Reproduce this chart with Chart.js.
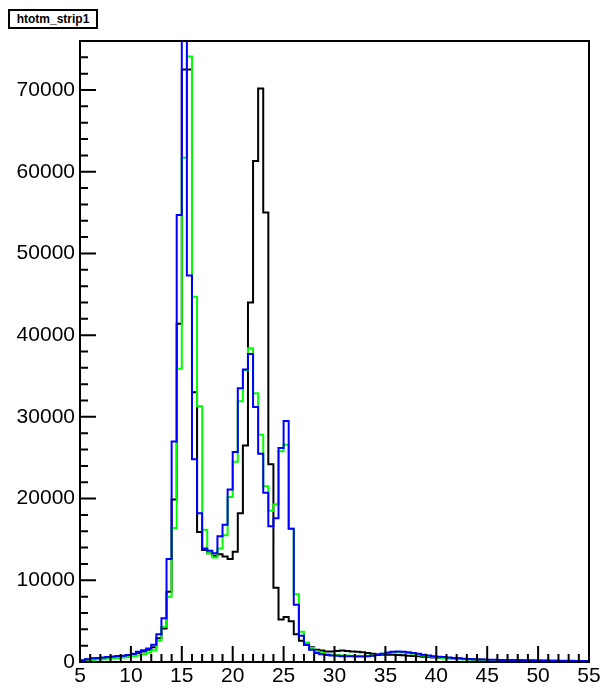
<!DOCTYPE html>
<html>
<head>
<meta charset="utf-8">
<script src="https://cdn.jsdelivr.net/npm/chart.js@4.4.1/dist/chart.umd.min.js"></script>
<style>
  body { margin: 0; background: #fff; }
  #wrap { position: relative; width: 605px; height: 688px; }
  #title {
    position: absolute; left: 8px; top: 9px; width: 86px; height: 16px;
    border: 2px solid #000; font: bold 12px "Liberation Sans", Arial, sans-serif;
    line-height: 16px; text-align: center; color: #000; background: #fff;
  }
</style>
</head>
<body>
<div id="wrap">
  <canvas id="c" width="605" height="688"></canvas>
  <div id="title">htotm_strip1</div>
</div>
<script>
// histogram bins: 0.5 wide, from 5 to 55
const histName = 'htotm_strip1';
const xMin = 5, xMax = 55, binWidth = 0.5;
const yMax = 76000;
const xTickValues = [5, 10, 15, 20, 25, 30, 35, 40, 45, 50, 55];
const yTickValues = [0, 10000, 20000, 30000, 40000, 50000, 60000, 70000];

const blackCounts = [
  150, 300, 400, 450, 500, 550, 600, 650, 700, 800,
  950, 1100, 1300, 1500, 1800, 2900, 4100, 8600, 19900, 41400,
  72500, 72500, 33000, 15900, 13700, 13300, 13000, 13200, 12900, 12600,
  13500, 18200, 26500, 44000, 61300, 70200, 55000, 24200, 9100, 5200,
  5500, 5000, 3400, 2600, 2100, 1800, 1500, 1400, 1300, 1300,
  1350, 1400, 1350, 1300, 1250, 1200, 1100, 1000, 950, 900,
  900, 880, 850, 820, 780, 740, 700, 650, 600, 560,
  520, 480, 450, 420, 390, 360, 340, 320, 300, 280,
  260, 250, 240, 230, 220, 210, 200, 190, 180, 170,
  160, 150, 150, 140, 130, 130, 120, 110, 110, 100
];
const greenCounts = [
  50, 150, 250, 300, 350, 400, 450, 500, 550, 600,
  700, 800, 950, 1150, 1450, 2600, 4300, 8000, 16400, 35900,
  61700, 74100, 44700, 31300, 16200, 13300, 12800, 13900, 15500, 20200,
  24500, 31900, 35700, 38400, 32900, 27800, 21500, 18500, 19300, 25800,
  26600, 16300, 8300, 3700, 2400, 1700, 1300, 1100, 950, 900,
  850, 800, 800, 750, 750, 730, 750, 800, 900, 1000,
  1100, 1150, 1200, 1150, 1100, 1000, 900, 800, 700, 650,
  550, 500, 450, 400, 350, 320, 300, 270, 250, 230,
  210, 200, 190, 180, 170, 160, 150, 140, 130, 130,
  120, 120, 110, 110, 100, 100, 90, 90, 80, 80
];
const blueCounts = [
  200, 350, 450, 500, 560, 620, 680, 740, 780, 850,
  1000, 1250, 1450, 1650, 2100, 3400, 5350, 12600, 27000, 54700,
  90000, 47300, 24800, 18200, 13900, 13600, 13300, 15400, 16800, 21100,
  25700, 33500, 35800, 37700, 31200, 25500, 20700, 16600, 17600, 26200,
  29500, 16300, 7000, 3200, 2100, 1500, 1100, 950, 850, 800,
  750, 700, 700, 700, 680, 680, 700, 750, 850, 1000,
  1150, 1250, 1300, 1250, 1200, 1100, 1000, 900, 800, 700,
  650, 600, 550, 500, 450, 400, 380, 350, 320, 300,
  280, 270, 260, 250, 240, 230, 220, 210, 200, 190,
  180, 170, 160, 160, 150, 150, 140, 130, 130, 120
];

// bin low edges (categories)
const binEdges = blackCounts.map((_, i) => xMin + i * binWidth);

// turn counts into a closed step outline like ROOT's HIST draw
function histPoints(counts) {
  const pts = [{ x: xMin, y: 0 }];
  counts.forEach((c, i) => pts.push({ x: binEdges[i], y: c }));
  pts.push({ x: xMax, y: counts[counts.length - 1] });
  pts.push({ x: xMax, y: 0 });
  return pts;
}

const font = { family: '"Liberation Sans", Arial, sans-serif', size: 21 };

// ROOT-like frame with inward ticks
const frameTicks = {
  id: 'frameTicks',
  afterDatasetsDraw(chart) {
    const { ctx, chartArea: a, scales: { x, y } } = chart;
    ctx.save();
    ctx.strokeStyle = '#000';
    ctx.lineWidth = 2;
    ctx.beginPath();
    for (let v = 0; v <= yMax; v += 2000) {
      const py = y.getPixelForValue(v);
      const len = v % 10000 === 0 ? 16 : 8;
      ctx.moveTo(a.left, py);
      ctx.lineTo(a.left + len, py);
    }
    for (let v = xMin; v <= xMax; v += 1) {
      const px = x.getPixelForValue(v);
      const len = v % 5 === 0 ? 16 : 8;
      ctx.moveTo(px, a.bottom);
      ctx.lineTo(px, a.bottom - len);
    }
    ctx.stroke();
    ctx.strokeRect(a.left, a.top, a.right - a.left, a.bottom - a.top);
    ctx.restore();
  }
};

new Chart(document.getElementById('c'), {
  type: 'line',
  data: {
    datasets: [
      { label: 'blue', data: histPoints(blueCounts), borderColor: '#0000ff' },
      { label: 'green', data: histPoints(greenCounts), borderColor: '#00ff00' },
      { label: 'black', data: histPoints(blackCounts), borderColor: '#000000' }
    ].map(d => Object.assign(d, { stepped: true, borderWidth: 2, pointRadius: 0, fill: false }))
  },
  options: {
    responsive: false,
    animation: false,
    devicePixelRatio: 1,
    layout: { padding: { top: 41, right: 16, left: 0, bottom: 0 } },
    plugins: { legend: { display: false }, tooltip: { enabled: false } },
    scales: {
      x: {
        type: 'linear', min: xMin, max: xMax,
        grid: { display: false, drawTicks: false }, border: { display: false },
        afterBuildTicks: s => { s.ticks = xTickValues.map(v => ({ value: v })); },
        ticks: { autoSkip: false, maxRotation: 0, padding: 2, color: '#000', font,
                 callback: v => String(v) },
        afterFit: s => { s.height = 26; }
      },
      y: {
        min: 0, max: yMax,
        grid: { display: false, drawTicks: false }, border: { display: false },
        afterBuildTicks: s => { s.ticks = yTickValues.map(v => ({ value: v })); },
        ticks: { padding: 5, color: '#000', font, callback: v => String(v) },
        afterFit: s => { s.width = 80; }
      }
    }
  },
  plugins: [frameTicks]
});
</script>
</body>
</html>
